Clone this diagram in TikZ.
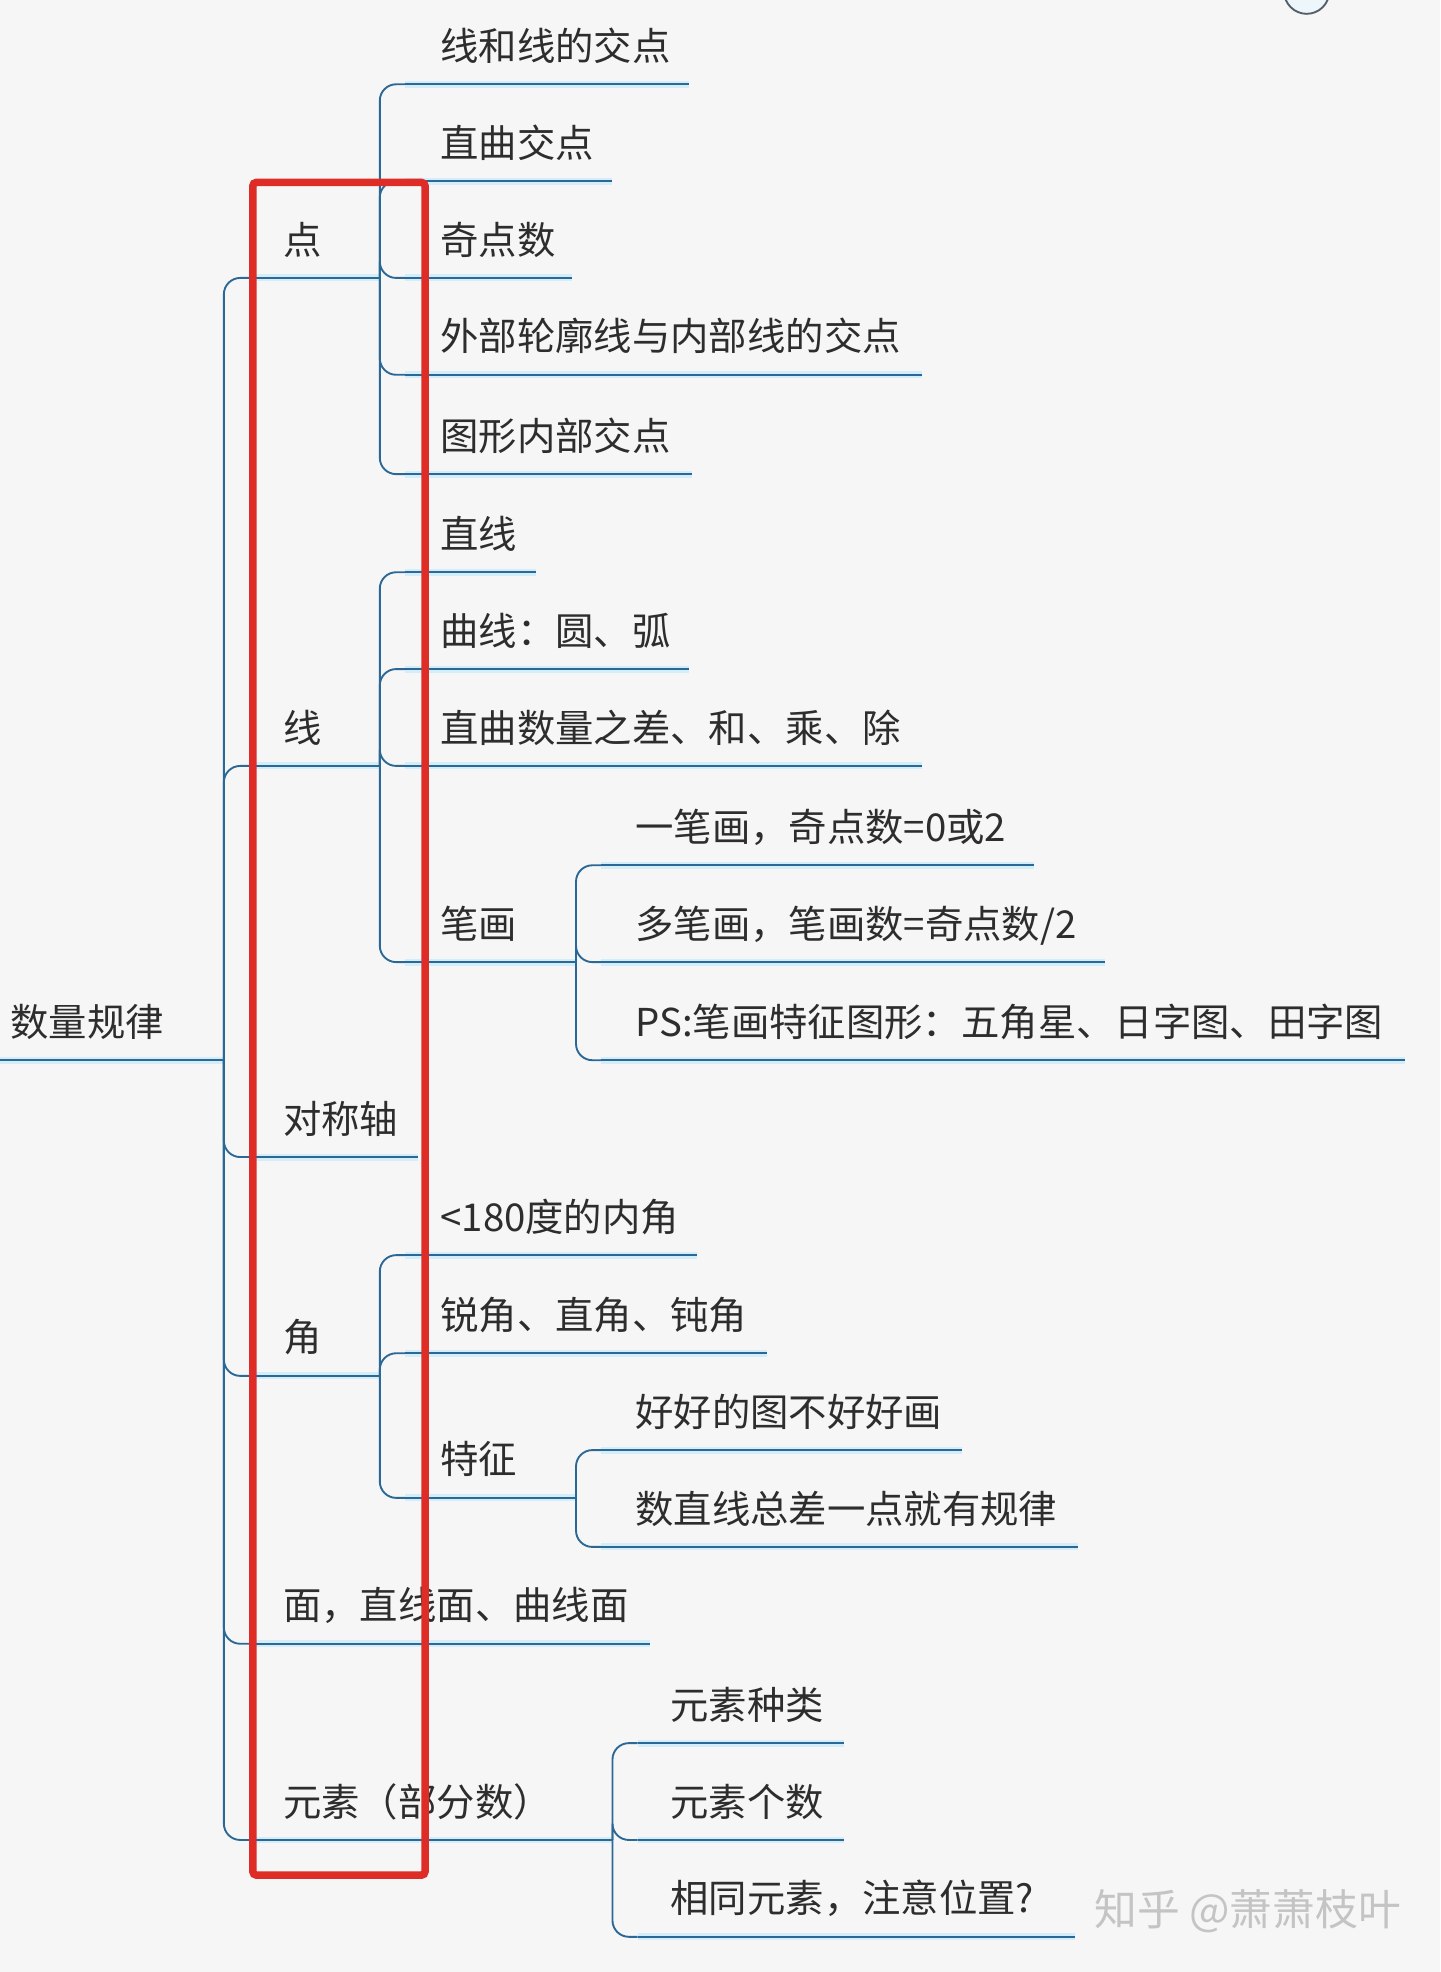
\documentclass[tikz,border=0pt]{standalone}
\usepackage{fontspec}
\newfontfamily\cjk{Noto Sans CJK SC}
\definecolor{bg}{RGB}{246,246,246}
\definecolor{lncol}{RGB}{44,104,150}
\definecolor{halo}{RGB}{212,238,249}
\definecolor{txtcol}{RGB}{45,45,45}
\definecolor{redbox}{RGB}{222,44,38}
\definecolor{wmcol}{RGB}{196,196,196}
\definecolor{circfill}{RGB}{236,246,251}
\definecolor{circline}{RGB}{85,95,105}
\newcommand\mmtopic[6]{%
  \coordinate (#1-s) at (#2,#5);
  \coordinate (#1-e) at (#4,#5);
  \draw[uline] (#1-s) -- (#1-e);
  \node[lbl] (#1) at (#3,#5-19) {#6};}
\begin{document}
\begin{tikzpicture}[x=1pt,y=-1pt,
  lbl/.style={anchor=base west,inner sep=0pt,text=txtcol,font=\cjk\fontsize{30.5}{36}\selectfont},
  uline/.style={draw=lncol,line width=1.9pt,preaction={draw=halo,line width=5.5pt}},
  conn/.style={draw=lncol,line width=1.5pt,rounded corners=13pt}]
\fill[bg] (0,0) rectangle (1145,1568);
\useasboundingbox (0,0) rectangle (1145,1568);
% partial circle at top
\draw[fill=circfill,draw=circline,line width=1.5pt] (1039,-7) circle (18);
% root
\mmtopic{root}{0}{8}{178}{843}{数量规律}
% level 1
\mmtopic{dian}{198}{225}{302}{221}{点}
\mmtopic{xian}{198}{225}{302}{609}{线}
\mmtopic{dcz}{198}{225}{332}{920}{对称轴}
\mmtopic{jiao}{198}{225}{302}{1094}{角}
\mmtopic{mian}{198}{225}{517}{1307}{面，直线面、曲线面}
\mmtopic{ys}{198}{225}{487}{1463}{元素（部分数）}
% 点
\mmtopic{d1}{322}{350}{548}{67}{线和线的交点}
\mmtopic{d2}{322}{350}{487}{144}{直曲交点}
\mmtopic{d3}{322}{350}{455}{221}{奇点数}
\mmtopic{d4}{322}{350}{733}{298}{外部轮廓线与内部线的交点}
\mmtopic{d5}{322}{350}{550}{377}{图形内部交点}
% 线
\mmtopic{x1}{322}{350}{426}{455}{直线}
\mmtopic{x2}{322}{350}{548}{532}{曲线：圆、弧}
\mmtopic{x3}{322}{350}{733}{609}{直曲数量之差、和、乘、除}
\mmtopic{x4}{322}{350}{458}{765}{笔画}
% 笔画
\mmtopic{b1}{478}{505}{822}{688}{一笔画，奇点数=0或2}
\mmtopic{b2}{478}{505}{879}{765}{多笔画，笔画数=奇点数/2}
\mmtopic{b3}{478}{505}{1117}{843}{PS:笔画特征图形：五角星、日字图、田字图}
% 角
\mmtopic{j1}{322}{350}{554}{998}{<180度的内角}
\mmtopic{j2}{322}{350}{610}{1076}{锐角、直角、钝角}
\mmtopic{j3}{322}{350}{458}{1191}{特征}
% 特征
\mmtopic{t1}{478}{505}{765}{1153}{好好的图不好好画}
\mmtopic{t2}{478}{505}{857}{1230}{数直线总差一点就有规律}
% 元素
\mmtopic{y1}{507}{533}{671}{1386}{元素种类}
\mmtopic{y2}{507}{533}{671}{1463}{元素个数}
\mmtopic{y3}{507}{533}{855}{1540}{相同元素，注意位置?}
% connectors
\foreach \c in {dian,xian,dcz,jiao,mian,ys} \draw[conn] (root-e) |- (\c-s);
\foreach \c in {d1,d2,d3,d4,d5} \draw[conn] (dian-e) |- (\c-s);
\foreach \c in {x1,x2,x3,x4} \draw[conn] (xian-e) |- (\c-s);
\foreach \c in {b1,b2,b3} \draw[conn] (x4-e) |- (\c-s);
\foreach \c in {j1,j2,j3} \draw[conn] (jiao-e) |- (\c-s);
\foreach \c in {t1,t2} \draw[conn] (j3-e) |- (\c-s);
\foreach \c in {y1,y2,y3} \draw[conn] (ys-e) |- (\c-s);
% watermark
\node[anchor=base west,inner sep=0pt,text=wmcol,font=\cjk\fontsize{34}{40}\selectfont] (wm) at (870,1531) {知乎 @萧萧枝叶};
% red highlight box
\draw[draw=redbox,line width=6pt,rounded corners=3pt] (201,145) rectangle (338,1491);
\end{tikzpicture}
\end{document}
